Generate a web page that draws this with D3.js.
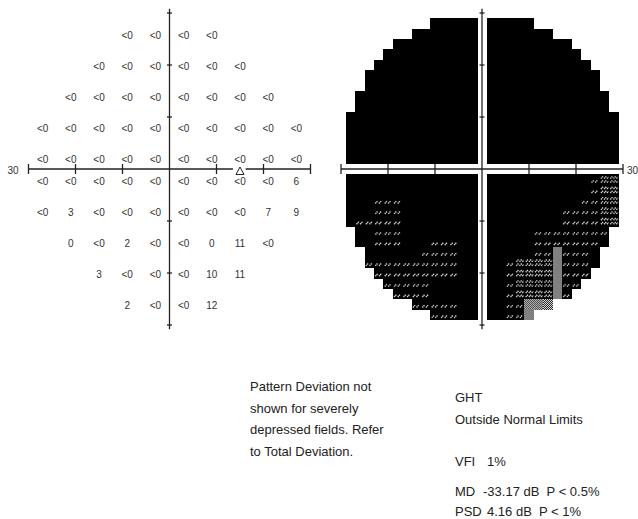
<!DOCTYPE html>
<html>
<head>
<meta charset="utf-8">
<script src="https://cdn.jsdelivr.net/npm/d3@7"></script>
<style>
  body { margin: 0; background: #fff; }
  svg { display: block; font-family: "Liberation Sans", Arial, sans-serif; }
</style>
</head>
<body>
<svg width="638" height="519"></svg>
<script>
// 30-2 numeric plot: one entry per row, top to bottom
const rowY = [27, 21, 15, 9, 3, -3, -9, -15, -21, -27];
const rowStartX = [-9, -15, -21, -27, -27, -27, -27, -21, -15, -9];
const rowValues = [
  ['<0', '<0', '<0', '<0'],
  ['<0', '<0', '<0', '<0', '<0', '<0'],
  ['<0', '<0', '<0', '<0', '<0', '<0', '<0', '<0'],
  ['<0', '<0', '<0', '<0', '<0', '<0', '<0', '<0', '<0', '<0'],
  ['<0', '<0', '<0', '<0', '<0', '<0', '<0', '<0', '<0', '<0'],
  ['<0', '<0', '<0', '<0', '<0', '<0', '<0', '<0', '<0', '6'],
  ['<0', '3', '<0', '<0', '<0', '<0', '<0', '<0', '7', '9'],
  ['0', '<0', '2', '<0', '<0', '0', '11', '<0'],
  ['3', '<0', '<0', '<0', '10', '11'],
  ['2', '<0', '<0', '12']
];
const blindSpot = [15, -3];
const axisTicks = [-30, -20, -10, 10, 20, 30];

// grayscale: cells per half-row, upper field (top -> axis), all darkest
const upperHalfWidths = [5, 7, 9, 10, 11, 12, 12, 13, 13, 14, 14, 14, 14, 14];
// lower field (axis -> bottom), 28 cells per row
// 0 = black, 1 = sparse dots, 2 = dense dots, 3 = gray checker, ' ' = outside
const lowerLevels = [
  '0000000000000000000000000122',
  '0000000000000000000000000122',
  '0001110000000000000000001122',
  '0001110000000000000000111122',
  '0111110000000000000000111122',
  ' 00111000000000000011111111 ',
  ' 00111000111000000011111110 ',
  '  000000111100000001131110  ',
  '  111111111100001222231110  ',
  '   1111111110000122223111   ',
  '    11111000000012222311    ',
  '     111100000001222231     ',
  '       11111000011333       ',
  '         1110000113         '
];

// bottom texts
const noteLines = ['Pattern Deviation not', 'shown for severely', 'depressed fields. Refer', 'to Total Deviation.'];
const ghtLines = ['GHT', 'Outside Normal Limits'];
const indexLabels = ['VFI', 'MD', 'PSD'];
const indexValues = ['1%', '-33.17 dB  P < 0.5%', '4.16 dB  P < 1%'];

const svg = d3.select('svg');
const ink = '#222';

const xL = d3.scaleLinear().domain([-30, 30]).range([28.5, 310.5]);
const xR = d3.scaleLinear().domain([-30, 30]).range([341, 623]);
const y = d3.scaleLinear().domain([-30, 30]).range([325, 13]);

// checker pattern for the lightest level
const defs = svg.append('defs');
const pat = defs.append('pattern')
  .attr('id', 'checker')
  .attr('width', 2).attr('height', 2)
  .attr('patternUnits', 'userSpaceOnUse');
pat.append('rect').attr('width', 2).attr('height', 2).attr('fill', '#111');
pat.append('rect').attr('width', 1).attr('height', 1).attr('fill', '#eee');
pat.append('rect').attr('x', 1).attr('y', 1).attr('width', 1).attr('height', 1).attr('fill', '#eee');

// ---------- left: numeric plot ----------
const left = svg.append('g');

function drawCross(g, x, gap) {
  const y0 = y(0), x0 = x(0);
  // horizontal axis (optionally with gap for the blind spot)
  if (gap) {
    g.append('line').attr('x1', x(-30)).attr('x2', x(gap[0])).attr('y1', y0).attr('y2', y0);
    g.append('line').attr('x1', x(gap[1])).attr('x2', x(30)).attr('y1', y0).attr('y2', y0);
  } else {
    g.append('line').attr('x1', x(-30)).attr('x2', x(30)).attr('y1', y0).attr('y2', y0);
  }
  g.append('line').attr('x1', x0).attr('x2', x0).attr('y1', y(30.8)).attr('y2', y(-30.8));
  g.selectAll('.hx').data(axisTicks).enter().append('line')
    .attr('x1', d => x(d)).attr('x2', d => x(d))
    .attr('y1', y0 - 5).attr('y2', y0 + 5);
  g.selectAll('.vy').data(axisTicks).enter().append('line')
    .attr('x1', x0 - 2.5).attr('x2', x0 + 2.5)
    .attr('y1', d => y(d)).attr('y2', d => y(d));
  g.selectAll('line').attr('stroke', ink).attr('stroke-width', 1.3);
}

drawCross(left, xL, [blindSpot[0] - 1.5, blindSpot[0] + 1.2]);

const points = [];
rowValues.forEach((row, i) => {
  row.forEach((v, j) => points.push({ x: rowStartX[i] + 6 * j, y: rowY[i], v }));
});

left.selectAll('text.val')
  .data(points)
  .enter()
  .append('text')
  .attr('class', 'val')
  .attr('x', d => xL(d.x))
  .attr('y', d => y(d.y) + (d.y > 0 ? 6.5 : -3.5))
  .attr('dy', '0.35em')
  .attr('text-anchor', 'middle')
  .attr('font-size', '10px')
  .attr('fill', '#333')
  .text(d => d.v);

// blind spot triangle
const bx = xL(blindSpot[0]), by = y(0) + 2;
left.append('path')
  .attr('d', `M${bx - 4},${by + 3.5}L${bx},${by - 4}L${bx + 4},${by + 3.5}Z`)
  .attr('fill', '#fff')
  .attr('stroke', ink)
  .attr('stroke-width', 1);

left.append('text')
  .attr('x', xL(-30) - 10).attr('y', y(0) + 1)
  .attr('dy', '0.35em')
  .attr('text-anchor', 'end')
  .attr('font-size', '10px')
  .attr('fill', '#333')
  .text('30');

// ---------- right: grayscale ----------
const right = svg.append('g');

const cellX = c => (c < 14 ? -29 + 2 * c : 1 + 2 * (c - 14));
const cells = [];
upperHalfWidths.forEach((n, r) => {
  for (let c = 14 - n; c < 14 + n; c++) cells.push({ c, top: 29 - 2 * r, level: 0 });
});
lowerLevels.forEach((s, r) => {
  for (let c = 0; c < 28; c++) {
    const ch = s[c];
    if (ch && ch !== ' ') cells.push({ c, top: -1 - 2 * r, level: +ch });
  }
});

const cell = right.selectAll('g.cell')
  .data(cells)
  .enter()
  .append('g')
  .attr('class', 'cell')
  .attr('transform', d => `translate(${xR(cellX(d.c))},${y(d.top)})`);

const cw = xR(2) - xR(0);
const ch = y(0) - y(2);

cell.append('rect')
  .attr('width', cw + 0.4)
  .attr('height', ch + 0.4)
  .attr('fill', d => (d.level === 3 ? 'url(#checker)' : '#000'))
  .attr('shape-rendering', 'crispEdges');

const sparse = 'M1.4,8.4L4,5.8M5,8.4L7.6,5.8';
const dense = 'M1.4,8.4L3.6,6.2M4.6,8.4L6.8,6.2M7.4,8.4L9,6.8M1.4,4.4L3.6,2.2M4.6,4.4L6.8,2.2M7.4,4.4L9,2.8';
cell.filter(d => d.level === 1 || d.level === 2)
  .append('path')
  .attr('d', d => (d.level === 1 ? sparse : dense))
  .attr('stroke', '#d4d4d4')
  .attr('stroke-width', 1.4)
  .attr('stroke-dasharray', '1.3,0.5')
  .attr('fill', 'none');

drawCross(right, xR, null);

right.append('text')
  .attr('x', xR(30) + 4).attr('y', y(0) + 1)
  .attr('dy', '0.35em')
  .attr('font-size', '10px')
  .attr('fill', '#333')
  .text('30');

// ---------- bottom texts ----------
const txt = svg.append('g')
  .attr('font-size', '13px')
  .attr('fill', ink);

txt.selectAll('text.note')
  .data(noteLines)
  .enter()
  .append('text')
  .attr('x', 250)
  .attr('y', (d, i) => 391 + i * 21.5)
  .text(d => d);

txt.selectAll('text.ght')
  .data(ghtLines)
  .enter()
  .append('text')
  .attr('x', 455)
  .attr('y', (d, i) => 402 + i * 22)
  .text(d => d);

const indexY = [466, 496, 516];
txt.selectAll('text.lab')
  .data(indexLabels)
  .enter()
  .append('text')
  .attr('x', 455)
  .attr('y', (d, i) => indexY[i])
  .text(d => d);

txt.selectAll('text.idx')
  .data(indexValues)
  .enter()
  .append('text')
  .attr('xml:space', 'preserve')
  .attr('x', (d, i) => (i === 1 ? 483 : 487))
  .attr('y', (d, i) => indexY[i])
  .text(d => d);
</script>
</body>
</html>
